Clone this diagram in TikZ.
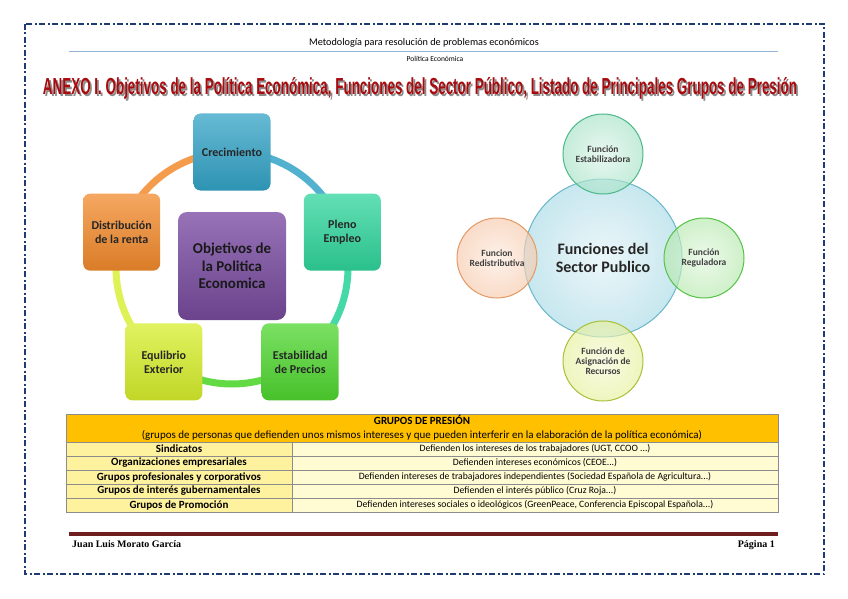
\documentclass[tikz,border=0pt]{standalone}
\usepackage{fontspec}
\usepackage{graphicx}
\usepackage{pdfrender}
\setmainfont{Carlito}
\newfontfamily\titlefont{Liberation Sans}
\newfontfamily\footfont{Liberation Serif}
\usetikzlibrary{positioning}

\definecolor{framenavy}{HTML}{1F3B73}
\definecolor{headblue}{HTML}{95B3D7}
\definecolor{titlered}{HTML}{A80A0E}
\definecolor{titleline}{HTML}{2A0203}
\definecolor{footred}{HTML}{6E1E1E}
\definecolor{crecC}{HTML}{33A3C6}
\definecolor{plenoC}{HTML}{2FD59C}
\definecolor{estabC}{HTML}{4FD62F}
\definecolor{equilC}{HTML}{D6EE2B}
\definecolor{distC}{HTML}{F28A2C}
\definecolor{objC}{HTML}{7D4FA5}
\definecolor{sectorC}{HTML}{A9DAE6}
\definecolor{sectorB}{HTML}{6AB7CB}
\definecolor{stabC}{HTML}{A6E2C6}
\definecolor{stabB}{HTML}{4DB889}
\definecolor{regulC}{HTML}{B5E8AC}
\definecolor{regulB}{HTML}{55C24A}
\definecolor{asignC}{HTML}{E6F09A}
\definecolor{asignB}{HTML}{AABF3A}
\definecolor{redisC}{HTML}{F7C9AB}
\definecolor{redisB}{HTML}{E39A66}
\definecolor{headorange}{HTML}{FFC000}
\definecolor{leftcol}{HTML}{FFF29E}
\definecolor{rightcol}{HTML}{FFFBD3}
\definecolor{gridgray}{HTML}{8C8C8C}

\newcommand{\anexotitle}{\resizebox{754pt}{17pt}{\titlefont\bfseries ANEXO I. Objetivos de la Política Económica, Funciones del Sector Público, Listado de Principales Grupos de Presión}}

\begin{document}
\begin{tikzpicture}[x=1pt, y=-1pt,
    objbox/.style={rectangle, rounded corners=7pt, minimum size=77pt, inner sep=2pt, align=center, font=\fontsize{12}{14}\selectfont\bfseries, text=black!85},
    ringpart/.style={line width=7pt},
    funcball/.style={circle, minimum size=80pt, inner sep=0pt, align=center, line width=1pt, fill opacity=0.65, text opacity=1, font=\fontsize{9.5}{10}\selectfont\bfseries, text=black!75},
    cell/.style={draw=gridgray, line width=0.6pt, minimum height=14pt, inner sep=0pt, font=\fontsize{9.7}{11}\selectfont}]
    \useasboundingbox (0,0) rectangle (848,599);
    \draw[framenavy, line width=1.3pt, dash pattern=on 6pt off 2.5pt on 2pt off 2.5pt] (25,24) rectangle (824,574);

    \node[font=\fontsize{10.2}{12}\selectfont] (method) at (424,43) {Metodología para resolución de problemas económicos};
    \draw[headblue, line width=0.8pt] (69,51) -- (778,51);
    \node[font=\fontsize{7.5}{9}\selectfont] (subject) at (435,59) {Política Económica};
    \node[anchor=base, text=black!45] (titleshade) at (421.8,96.8) {\anexotitle};
    \node[anchor=base, text=titlered] (title) at (420,95) {\textpdfrender{TextRenderingMode=FillStroke, LineWidth=0.5pt, StrokeColor=titleline}{\anexotitle}};

    \coordinate (ring) at (232,268);
    \draw[ringpart, crecC!85!white] ([shift={(-90:116)}]ring) arc (-90:-18:116);
    \draw[ringpart, plenoC!90!white] ([shift={(-18:116)}]ring) arc (-18:54:116);
    \draw[ringpart, estabC!90!white] ([shift={(54:116)}]ring) arc (54:126:116);
    \draw[ringpart, equilC!80!white] ([shift={(126:116)}]ring) arc (126:198:116);
    \draw[ringpart, distC!85!white] ([shift={(198:116)}]ring) arc (198:270:116);
    \node[objbox, top color=crecC!75!white, bottom color=crecC!90!black] (crec) at ([shift={(-90:116)}]ring) {Crecimiento};
    \node[objbox, top color=plenoC!75!white, bottom color=plenoC!90!black] (pleno) at ([shift={(-18:116)}]ring) {Pleno\\Empleo};
    \node[objbox, top color=estabC!75!white, bottom color=estabC!90!black] (estab) at ([shift={(54:116)}]ring) {Estabilidad\\de Precios};
    \node[objbox, top color=equilC!75!white, bottom color=equilC!90!black] (equil) at ([shift={(126:116)}]ring) {Equlibrio\\Exterior};
    \node[objbox, top color=distC!75!white, bottom color=distC!90!black] (dist) at ([shift={(198:116)}]ring) {Distribución\\de la renta};
    \node[objbox, minimum size=108pt, rounded corners=9pt, top color=objC!80!white, bottom color=objC!85!black, font=\fontsize{15}{17.5}\selectfont\bfseries, text=black!90] (obj) at (232,266) {Objetivos de\\la Politica\\Economica};

    \node[funcball, minimum size=158pt, inner color=sectorC!35!white, outer color=sectorC, draw=sectorB, font=\fontsize{16}{18}\selectfont\bfseries, text=black!85] (sector) at (603,258) {Funciones del\\Sector Publico};
    \node[funcball, inner color=stabC!40!white, outer color=stabC, draw=stabB, above=-16pt of sector] (stab) {Función\\Estabilizadora};
    \node[funcball, inner color=regulC!40!white, outer color=regulC, draw=regulB, right=-19pt of sector] (regul) {Función\\Reguladora};
    \node[funcball, inner color=asignC!40!white, outer color=asignC, draw=asignB, below=-17pt of sector] (asign) {Función de\\Asignación de\\Recursos};
    \node[funcball, inner color=redisC!40!white, outer color=redisC, draw=redisB, left=-14pt of sector] (redis) {Funcion\\Redistributiva};

    \node[cell, fill=headorange, minimum width=712pt, minimum height=28pt, align=center, font=\fontsize{11}{14}\selectfont] (groups) at (422,428) {\textbf{GRUPOS DE PRESIÓN}\\(grupos de personas que defienden unos mismos intereses y que pueden interferir en la elaboración de la política económica)};
    \foreach \grp/\desc [count=\i] in {
        Sindicatos/{Defienden los intereses de los trabajadores (UGT, CCOO ...)},
        Organizaciones empresariales/{Defienden intereses económicos (CEOE...)},
        Grupos profesionales y corporativos/{Defienden intereses de trabajadores independientes (Sociedad Española de Agricultura...)},
        Grupos de interés gubernamentales/{Defienden el interés público (Cruz Roja...)},
        Grupos de Promoción/{Defienden intereses sociales o ideológicos (GreenPeace, Conferencia Episcopal Española...)}}{
        \node[cell, fill=leftcol, minimum width=226pt, font=\fontsize{11}{12}\selectfont\bfseries] (grp\i) at (179,{435+14*\i}) {\grp};
        \node[cell, fill=rightcol, minimum width=486pt] (desc\i) at (535,{435+14*\i}) {\desc};
    }

    \draw[footred, line width=3.5pt] (69,534) -- (778,534);
    \node[anchor=base west, inner sep=0pt, font=\footfont\fontsize{10}{12}\selectfont\bfseries] (author) at (72,547) {Juan Luis Morato García};
    \node[anchor=base east, inner sep=0pt, font=\footfont\fontsize{10}{12}\selectfont\bfseries] (page) at (775,547) {Página 1};
\end{tikzpicture}
\end{document}
